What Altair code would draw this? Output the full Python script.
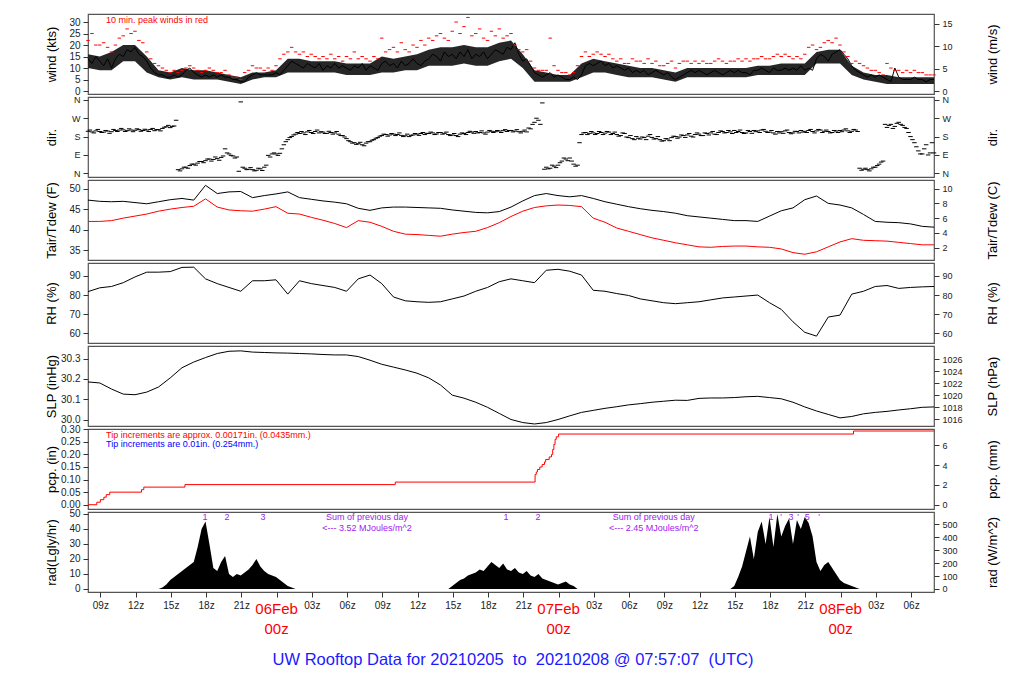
import altair as alt
import pandas as pd

FONT = "Liberation Sans"

# ---------------- data (hours since 2021-02-05 00z) ----------------
T0 = 7.95  # first sample (07:57z Feb 5)

# 20-minute samples
wind_kts = [14,12,15, 13,11,14, 10,14,16, 15,18,17, 19,16,15, 13,10,8, 7,7,6, 6,7,6, 7,9,10, 8,7,6,
            7,6,7, 6,7,6, 6,5,5, 4,4,6, 7,8,7, 7,7,7, 8,7,9, 11,13,12, 11,10,12, 11,10,12,
            9,11,10, 12,10,11, 10,9,11, 10,12,9, 11,10,9, 12,13,11, 12,10,13, 11,12,14, 12,11,13, 14,16,15,
            13,17,15, 16,14,17, 15,18,14, 16,15,17, 14,16,18, 17,16,19, 18,21,16, 13,14,11, 8,7,6, 7,8,6,
            7,6,5, 5,6,5, 7,11,12, 11,12,13, 11,12,10, 11,10,9, 10,8,9, 8,9,7, 8,9,8, 7,8,6,
            5,6,7, 8,9,8, 9,8,7, 8,9,8, 7,8,9, 8,9,8, 8,7,9, 9,10,9, 8,10,9, 9,10,9,
            10,9,11, 9,10,9, 14,16,15, 13,16,17, 18,16,14, 11,9,8, 7,6,7, 6,7,6, 5,4,10, 6,5,5,
            5,6,5, 5,4,5, 5]
peak_kts = [22,25,20, 20,21,19, 17,20,23, 24,27,25, 26,22,21, 17,14,12, 11,10,9, 8,9,8, 9,10,11, 10,9,8,
            9,10,9, 8,8,9, 7,6,6, 5,8,9, 11,10,10, 9,10,9, 11,14,16, 17,19,17, 16,17,15, 16,15,14,
            15,14,16, 14,15,13, 15,14,17, 14,15,14, 13,15,14, 23,17,18, 19,17,21, 18,17,20, 19,22,20, 23,22,24,
            25,23,22, 26,30,25, 28,32,24, 25,27,23, 22,26,24, 27,23,24, 25,20,18, 17,18,13, 10,9,9, 9,23,11,
            9,8,8, 7,8,11, 15,17,15, 16,17,16, 15,16,14, 13,14,12, 12,14,13, 13,12,14, 12,13,11, 11,12,13,
            10,12,13, 13,12,13, 12,13,12, 12,13,14, 13,12,13, 13,14,13, 14,13,14, 14,15,14, 14,15,16, 15,16,15,
            14,15,14, 16,19,20, 18,19,21, 22,21,23, 20,17,15, 12,13,12, 11,10,9, 9,8,7, 12,10,9, 9,8,9,
            8,9,8, 8,7,7, 7]
wind_dir = [206,203,208, 205,202,207, 204,210,212, 213,209,212, 211,214,210, 212,215,209, 214,220,228, 224,232,18,
            22,30,38, 45,50,58, 62,70,68, 72,78,120, 95,85,80, 350,25,20, 18,15,22, 30,88,95, 95,98,140, 165,180,192,
            195,198,203, 200,205,198, 202,196,200, 198,192,185, 170,155,150, 145,140,148, 155,165,175, 185,190,188,
            192,190,186, 184,180,188, 192,195,190, 195,198,193, 200,196,190, 188,185,192, 195,200,202, 205,200,198,
            202,206,204, 207,209,205, 210,207,204, 206,203,218, 250,260,345, 30,25,35, 40,60,70, 75,45,40,
            190,200,196, 198,195,200, 197,202,195, 190,185,195, 175,170,180, 168,175,182, 176,170,165, 160,168,175,
            180,178,185, 188,182,190, 192,185,195, 198,192,200, 205,200,203, 210,205,200, 198,205,210, 208,212,206,
            202,198,205, 204,208,200, 198,205,210, 206,210,205, 208,212,206, 205,200,207, 210,212,208, 206,212,25,
            20,18,22, 30,45,60, 225,240,230, 250,235,220, 180,150,110, 95,140,100, 100]
# second direction reading in each 20-minute slot (10 minutes later)
wind_dir_b = [212,198,215, 200,210,196, 215,205,220, 205,218,204, 218,206,216, 205,220,214, 208,226,235, 230,260,12,
              30,25,45, 40,58,52, 70,60,80, 64,85,100, 88,75,10, 30,18,28, 12,25,14, 40,80,100, 88,120,155, 175,188,200,
              205,190,210, 195,212,204, 195,206,192, 205,185,178, 160,148,142, 152,135,155, 162,172,182, 192,182,195,
              185,198,180, 192,186,195, 186,200,196, 202,190,200, 192,202,185, 195,180,198, 190,206,196, 198,208,192,
              210,200,210, 200,214,210, 203,214,198, 212,222,240, 270,240,20, 22,40,28, 52,75,62, 60,35,150,
              198,190,205, 190,205,190, 205,190,202, 182,198,178, 185,165,172, 178,165,190, 168,180,158, 170,160,182,
              172,188,176, 195,178,198, 185,198,188, 205,190,208, 198,210,195, 200,212,195, 210,196,204, 200,215,200,
              210,192,198, 196,212,194, 206,198,202, 200,215,198, 215,200,212, 198,210,200, 204,218,200, 215,205,15,
              25,12,30, 38,55,240, 235,220,245, 240,225,200, 165,130,95, 120,90,150]
rad_ly = [0,0,0, 0,0,0, 0,0,0, 0,0,0, 0,0,0, 0,0,0,
          0,1,3, 6,8,10, 12,14,16, 18,28,40, 45,30,14, 12,18,22, 10,8,10, 9,11,13, 16,20,15, 12,10,9, 8,6,4, 2,1,0,
          0,0,0, 0,0,0, 0,0,0, 0,0,0, 0,0,0, 0,0,0, 0,0,0, 0,0,0, 0,0,0, 0,0,0, 0,0,0, 0,0,0, 0,0,0,
          2,4,6, 7,9,10, 11,13,12, 15,18,16, 14,17,13, 12,14,11, 10,12,9, 8,10,7, 6,5,4, 3,4,5, 3,2,0,
          0,0,0, 0,0,0, 0,0,0, 0,0,0, 0,0,0, 0,0,0, 0,0,0, 0,0,0, 0,0,0, 0,0,0, 0,0,0, 0,0,0, 0,0,0,
          2,8,15, 25,35,20, 38,45,30, 48,28,50, 35,42,47, 30,46,40, 48,44,35, 18,12,16, 18,14,10, 6,4,3, 2,1,0,
          0,0,0, 0,0,0, 0,0,0, 0,0,0, 0,0,0, 0,0,0, 0]

# hourly samples
wind_lo = [10,9,9,13,13,8,6,5,6,5, 5,5,4,3,5,6,6,8,8,8, 8,8,7,7,7,8,8,9,9,11,
           11,11,12,11,11,13,14,10,4,4, 4,4,6,8,8,7,6,6,6,5, 4,6,6,6,6,6,6,7,7,7,
           7,7,12,12,12,7,5,4,3,3, 3,3,3]
wind_hi = [16,15,17,20,20,15,9,8,10,9, 9,8,7,6,8,8,9,14,14,13, 13,13,12,12,12,15,14,15,16,18,
           19,19,20,19,19,21,22,16,9,8, 7,7,12,14,13,12,11,10,10,9, 8,10,10,10,10,10,10,11,11,12,
           12,12,17,18,18,11,8,7,7,6, 6,6,6]
tair_f = [47.2,46.9,46.8,46.9,46.6,46.3,46.8,47.3,47.6,47.2,
          50.8,48.8,49.2,49.3,47.8,48.3,48.7,49.2,47.8,47.4,
          47.0,46.7,46.3,45.2,44.7,45.3,45.5,45.5,45.4,45.3,
          45.2,44.8,44.5,44.2,44.1,44.4,45.5,47.0,48.3,48.8,
          48.3,48.0,48.3,47.6,46.8,46.2,45.6,45.1,44.7,44.4,
          44.0,43.4,43.1,42.8,42.5,42.2,42.2,42.0,43.3,44.6,
          45.3,47.3,48.2,46.4,46.0,45.3,43.7,42.0,41.8,41.7,
          41.4,40.8,40.6]
tdew_f = [42.0,42.0,42.2,42.8,43.3,43.8,44.5,45.0,45.4,45.7,
          47.5,45.5,44.8,44.6,44.5,45.0,45.6,44.0,43.8,43.0,
          42.3,41.5,40.5,42.2,41.8,40.8,39.6,38.9,38.8,38.6,
          38.4,38.9,39.3,39.6,40.5,41.7,43.2,44.5,45.4,45.8,
          46.0,45.9,45.6,42.8,41.8,40.4,39.6,38.8,38.0,37.4,
          36.8,36.3,35.8,35.7,35.9,36.0,36.0,35.8,35.7,35.3,
          34.4,34.0,34.6,35.8,37.0,37.8,37.4,37.3,37.2,36.9,
          36.6,36.3,36.3]
rh_pct = [81.8,83.8,84.5,86.5,89.5,92.0,92.0,92.3,94.5,94.6,
          88.5,86.0,84.0,82.0,87.5,87.5,88.0,80.5,87.5,86.0,
          85.0,84.0,82.0,88.5,90.5,86.0,79.0,77.0,76.5,76.2,
          76.5,78.0,79.5,82.0,84.0,87.0,88.5,87.5,86.5,93.0,
          93.5,92.5,90.5,82.5,82.0,80.8,79.8,78.0,77.0,76.0,
          75.5,76.0,76.5,77.5,78.5,79.0,79.5,80.0,76.0,72.5,
          66.0,60.5,58.5,68.5,69.5,80.5,82.0,84.5,85.0,83.5,
          84.0,84.3,84.5]
slp_inhg = [30.185,30.180,30.150,30.125,30.122,30.135,30.160,30.205,30.255,30.283,
            30.305,30.325,30.336,30.338,30.332,30.330,30.328,30.327,30.325,30.323,
            30.320,30.318,30.318,30.310,30.292,30.272,30.258,30.244,30.228,30.205,
            30.170,30.120,30.105,30.085,30.060,30.030,30.000,29.985,29.978,29.985,
            30.000,30.018,30.035,30.045,30.055,30.063,30.072,30.078,30.085,30.090,
            30.095,30.094,30.104,30.106,30.106,30.108,30.112,30.114,30.108,30.102,
            30.085,30.062,30.042,30.025,30.008,30.015,30.028,30.035,30.040,30.047,
            30.053,30.060,30.062]

# cumulative precipitation (bucket tips)
pcp_h = [7.95, 8.7, 9.0, 9.3, 9.5, 9.8, 12.5, 12.7, 16.2, 34.1, 46.0, 46.1, 46.2, 46.4, 46.6,
         46.8, 46.9, 47.2, 47.4, 47.5, 47.6, 47.7, 47.8, 48.0, 73.1, 79.95]
pcp_in = [0.0, 0.01, 0.02, 0.03, 0.04, 0.05, 0.06, 0.07, 0.08, 0.09, 0.12, 0.13, 0.14, 0.15, 0.16,
          0.17, 0.18, 0.19, 0.20, 0.22, 0.24, 0.26, 0.27, 0.281, 0.293, 0.293]

# annotations
day_h = [24, 48, 72]
day_lbl = ["06Feb", "07Feb", "08Feb"]
rad_num_h = [17.91, 19.78, 22.84, 43.52, 46.25, 66.08, 66.93, 67.78, 68.38, 69.16, 70.18]
rad_num_t = ["1", "2", "3", "1", "2", "1", "'", "3", "'", "5", "'"]
sum_h = [31.7, 56.1]
sum_t1 = ["Sum of previous day", "Sum of previous day"]
sum_t2 = ["<--- 3.52 MJoules/m^2", "<--- 2.45 MJoules/m^2"]

# ---------------- frames ----------------
h20 = [T0 + i / 3 for i in range(len(wind_kts))]
h20b = [T0 + 1 / 6 + i / 3 for i in range(len(wind_dir_b))]
h60 = [T0 + i for i in range(len(tair_f))]
df20 = pd.DataFrame({"h": h20, "wind": wind_kts, "peak": peak_kts, "dir": wind_dir, "rad": rad_ly})
dfdb = pd.DataFrame({"h": h20b, "dir": wind_dir_b})
df60 = pd.DataFrame({"h": h60, "tair": tair_f, "tdew": tdew_f, "rh": rh_pct, "slp": slp_inhg,
                     "wlo": wind_lo, "whi": wind_hi})
dfp = pd.DataFrame({"h": pcp_h, "pcp": pcp_in})
dfday = pd.DataFrame({"h": day_h, "day": day_lbl})
dfnum = pd.DataFrame({"h": rad_num_h, "t": rad_num_t})
dfsum = pd.DataFrame({"h": sum_h, "t1": sum_t1, "t2": sum_t2})

W, H = 846, 80
xs = alt.Scale(domain=[7.95, 79.95], nice=False, zero=False)
X_NONE = alt.X("h:Q", scale=xs, axis=None)
bottom_axis = alt.Axis(values=list(range(9, 80, 3)), title=None, tickSize=5, labelFontSize=10,
                       labelPadding=3, grid=False, domain=False, labelFlush=False, labelOverlap=False,
                       labelExpr="datum.value % 24 == 0 ? '' : format(datum.value % 24, '02d') + 'z'")
X_BOT = alt.X("h:Q", scale=xs, axis=bottom_axis)

DASH = "M-1,0L1,0"


def yaxis(title, values, orient, fmt=None, expr=None, size=10):
    d = dict(title=title, values=values, orient=orient, titleX=(-37 if orient == "left" else 58),
             titleY=H / 2, titleAngle=270, titleAlign="center", titleBaseline="middle",
             titleFontSize=13, titleFontWeight="normal", titleColor="black", labelFontSize=size,
             tickSize=5, labelPadding=3, grid=False, domain=False, labelOverlap=False, labelFlush=False)
    if fmt:
        d["format"] = fmt
    if expr:
        d["labelExpr"] = expr
    return alt.Axis(**d)


def ysc(dom):
    return alt.Scale(domain=dom, nice=False, zero=False)


def panel(inner, rdf, rexpr, rdom, raxis, x_enc=X_NONE):
    right = alt.Chart(rdf).mark_line(strokeOpacity=0).transform_calculate(r=rexpr).encode(
        x=x_enc, y=alt.Y("r:Q", scale=ysc(rdom), axis=raxis))
    return alt.layer(alt.layer(*inner), right).resolve_scale(y="independent").properties(width=W, height=H)


# wind
WD = [-1.3, 33.5]
KMS = 0.514444
ax_w = yaxis("wind (kts)", [0, 5, 10, 15, 20, 25, 30], "left")
p_wind = panel([
    alt.Chart(df60).mark_area(color="#262626", interpolate="linear").encode(
        x=X_NONE, y=alt.Y("wlo:Q", scale=ysc(WD), axis=ax_w), y2="whi:Q"),
    alt.Chart(df20).mark_line(color="black", strokeWidth=1).encode(
        x=X_NONE, y=alt.Y("wind:Q", scale=ysc(WD), axis=ax_w)),
    alt.Chart(df20).mark_point(shape=DASH, size=12, color="red", strokeWidth=1, opacity=1, filled=False).encode(
        x=X_NONE, y=alt.Y("peak:Q", scale=ysc(WD), axis=ax_w)),
    alt.Chart(pd.DataFrame({"t": ["10 min. peak winds in red"]})).mark_text(
        align="left", baseline="middle", color="red", fontSize=9, font=FONT).encode(
        x=alt.value(18), y=alt.value(6), text="t:N"),
], df20, f"datum.wind*{KMS}", [WD[0] * KMS, WD[1] * KMS],
    yaxis("wind (m/s)", [0, 5, 10, 15], "right", size=9))

# direction
DD = [-18, 374]
dir_expr = "datum.value == 90 ? 'E' : datum.value == 180 ? 'S' : datum.value == 270 ? 'W' : 'N'"
ax_d = yaxis("dir.", [0, 90, 180, 270, 360], "left", expr=dir_expr, size=9)
p_dir = panel([
    alt.Chart(df20).mark_point(shape=DASH, size=20, color="black", strokeWidth=1, opacity=1, filled=False).encode(
        x=X_NONE, y=alt.Y("dir:Q", scale=ysc(DD), axis=ax_d)),
    alt.Chart(dfdb).mark_point(shape=DASH, size=20, color="black", strokeWidth=1, opacity=1, filled=False).encode(
        x=X_NONE, y=alt.Y("dir:Q", scale=ysc(DD), axis=ax_d)),
], df20, "datum.dir", DD, yaxis("dir.", [0, 90, 180, 270, 360], "right", expr=dir_expr, size=9))

# temperature
TD = [32.6, 52.1]
ax_t = yaxis("Tair/Tdew (F)", [35, 40, 45, 50], "left")
p_temp = panel([
    alt.Chart(df60).mark_line(color="black", strokeWidth=1).encode(
        x=X_NONE, y=alt.Y("tair:Q", scale=ysc(TD), axis=ax_t)),
    alt.Chart(df60).mark_line(color="red", strokeWidth=1).encode(
        x=X_NONE, y=alt.Y("tdew:Q", scale=ysc(TD), axis=ax_t)),
], df60, "(datum.tair-32)/1.8", [(TD[0] - 32) / 1.8, (TD[1] - 32) / 1.8],
    yaxis("Tair/Tdew (C)", [2, 4, 6, 8, 10], "right", size=9))

# RH
RD = [54.9, 96.8]
p_rh = panel([
    alt.Chart(df60).mark_line(color="black", strokeWidth=1).encode(
        x=X_NONE, y=alt.Y("rh:Q", scale=ysc(RD), axis=yaxis("RH (%)", [60, 70, 80, 90], "left"))),
], df60, "datum.rh", RD, yaxis("RH (%)", [60, 70, 80, 90], "right", size=9))

# SLP
SD = [29.968, 30.362]
HPA = 33.8639
p_slp = panel([
    alt.Chart(df60).mark_line(color="black", strokeWidth=1).encode(
        x=X_NONE, y=alt.Y("slp:Q", scale=ysc(SD),
                          axis=yaxis("SLP (inHg)", [30.0, 30.1, 30.2, 30.3], "left", fmt=".1f"))),
], df60, f"datum.slp*{HPA}", [SD[0] * HPA, SD[1] * HPA],
    yaxis("SLP (hPa)", [1016, 1018, 1020, 1022, 1024, 1026], "right", fmt="d", size=9))

# precipitation
PD = [-0.017, 0.301]
p_pcp = panel([
    alt.Chart(dfp).mark_line(color="red", strokeWidth=1, interpolate="step-after").encode(
        x=X_NONE, y=alt.Y("pcp:Q", scale=ysc(PD),
                          axis=yaxis("pcp. (in)", [0, 0.05, 0.1, 0.15, 0.2, 0.25, 0.3], "left", fmt=".2f"))),
    alt.Chart(pd.DataFrame({"t": ["Tip increments are approx. 0.00171in. (0.0435mm.)"]})).mark_text(
        align="left", baseline="middle", color="red", fontSize=9, font=FONT).encode(
        x=alt.value(18), y=alt.value(6), text="t:N"),
    alt.Chart(pd.DataFrame({"t": ["Tip increments are 0.01in. (0.254mm.)"]})).mark_text(
        align="left", baseline="middle", color="blue", fontSize=9, font=FONT).encode(
        x=alt.value(18), y=alt.value(15), text="t:N"),
], dfp, "datum.pcp*25.4", [PD[0] * 25.4, PD[1] * 25.4],
    yaxis("pcp. (mm)", [0, 2, 4, 6], "right", size=9))

# radiation
AD = [-2, 51.3]
WM = 11.63
PURPLE = "#A020F0"
p_rad = panel([
    alt.Chart(df20).mark_area(color="black", interpolate="linear").encode(
        x=X_BOT, y=alt.Y("rad:Q", scale=ysc(AD),
                         axis=yaxis("rad(Lgly/hr)", [0, 10, 20, 30, 40, 50], "left"))),
    alt.Chart(dfnum).mark_text(color=PURPLE, fontSize=9, font=FONT, baseline="middle").encode(
        x=X_BOT, y=alt.value(5), text="t:N"),
    alt.Chart(dfsum).mark_text(color=PURPLE, fontSize=9, font=FONT, baseline="middle").encode(
        x=X_BOT, y=alt.value(5), text="t1:N"),
    alt.Chart(dfsum).mark_text(color=PURPLE, fontSize=9, font=FONT, baseline="middle").encode(
        x=X_BOT, y=alt.value(16), text="t2:N"),
    alt.Chart(dfday).mark_text(color="red", fontSize=15, font=FONT, baseline="middle").encode(
        x=X_BOT, y=alt.value(H + 17), text="day:N"),
    alt.Chart(dfday).mark_text(color="red", fontSize=15, font=FONT, baseline="middle", text="00z").encode(
        x=X_BOT, y=alt.value(H + 37)),
], df20, f"datum.rad*{WM}", [AD[0] * WM, AD[1] * WM],
    yaxis("rad (W/m^2)", [0, 100, 200, 300, 400, 500], "right", size=9), x_enc=X_BOT)

chart = alt.vconcat(p_wind, p_dir, p_temp, p_rh, p_slp, p_pcp, p_rad, spacing=3, bounds="flush").properties(
    title=alt.TitleParams(
        "UW Rooftop Data for 20210205\u00a0 to\u00a0 20210208 @ 07:57:07\u00a0 (UTC)",
        orient="bottom", anchor="middle", fontSize=16.5, font=FONT, fontWeight="normal",
        color="#1a1aff", offset=14, dx=-9),
    padding={"left": 36, "top": 5, "right": 5, "bottom": 5},
).configure_view(stroke="#555", strokeWidth=1.2).configure_axis(
    labelFont=FONT, titleFont=FONT, labelColor="#222", tickColor="#333")

chart.save("out.html", embed_options={"renderer": "svg", "actions": False})
